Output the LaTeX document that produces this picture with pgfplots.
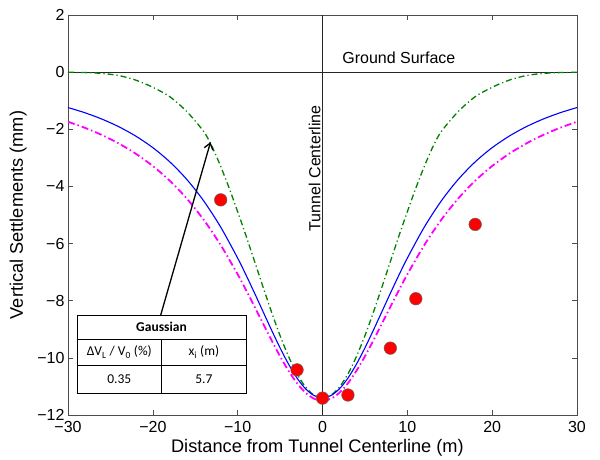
\documentclass[border=0pt]{standalone}
\usepackage{fontspec}
\setmainfont{Liberation Sans}
\newfontfamily\calibri{Carlito}
\usepackage{pgfplots}
\pgfplotsset{compat=1.18}
\usetikzlibrary{arrows.meta}
\definecolor{mgreen}{rgb}{0,0.5,0}
\definecolor{mmag}{rgb}{1,0,1}
\definecolor{mblue}{rgb}{0,0,1}
\definecolor{mred}{rgb}{1,0,0}
\begin{document}
\begin{tikzpicture}
\useasboundingbox (-68pt,-44pt) rectangle (532pt,415pt);
\begin{axis}[
  at={(0pt,0pt)}, anchor=south west,
  scale only axis, width=509pt, height=400pt,
  xmin=-30, xmax=30, ymin=-12, ymax=2,
  xtick={-30,-20,-10,0,10,20,30},
  xticklabels={−30,−20,−10,0,10,20,30},
  ytick={-12,-10,-8,-6,-4,-2,0,2},
  yticklabels={−12,−10,−8,−6,−4,−2,0,2},
  tick align=inside, major tick length=5pt,
  axis line style={black!70, line width=0.7pt},
  every tick/.style={black!70, line width=0.6pt},
  ticklabel style={font=\fontsize{16}{18}\selectfont},
  xticklabel style={yshift=-3pt},
  xlabel={Distance from Tunnel Centerline (m)},
  ylabel={Vertical Settlements (mm)},
  label style={font=\fontsize{18.2}{21}\selectfont},
  xlabel style={at={(axis description cs:0.49,-0.0925)}, anchor=base},
  ylabel style={at={(axis description cs:-0.098,0.5)}, anchor=center},
]
% ground surface and centerline
\addplot[black!85, line width=0.9pt] coordinates {(-30,0) (30,0)};
\addplot[black!85, line width=0.9pt] coordinates {(0,-12) (0,2)};
% green Gaussian
\addplot[mgreen, line width=1.3pt, smooth, dash pattern=on 6pt off 3pt on 1.2pt off 3pt] coordinates {
(-30,-0.005) (-28,-0.015) (-26,-0.045) (-24,-0.12) (-22,-0.28) (-20,-0.53) (-18,-0.86) (-16,-1.38) (-14,-2.08) (-13,-2.62) (-12,-3.30) (-11,-4.06) (-10,-4.885) (-9,-5.738) (-8,-6.628) (-7,-7.526) (-6,-8.403) (-5,-9.224) (-4,-9.954) (-3,-10.563) (-2,-11.020) (-1,-11.304) (0,-11.4)
(1,-11.304) (2,-11.020) (3,-10.563) (4,-9.954) (5,-9.224) (6,-8.403) (7,-7.526) (8,-6.628) (9,-5.738) (10,-4.885) (11,-4.06) (12,-3.30) (13,-2.62) (14,-2.08) (16,-1.38) (18,-0.86) (20,-0.53) (22,-0.28) (24,-0.12) (26,-0.045) (28,-0.015) (30,-0.005)};
% magenta
\addplot[mmag, line width=1.8pt, smooth, dash pattern=on 7pt off 3pt on 1.5pt off 3pt] coordinates {
(-30,-1.736) (-28,-1.949) (-26,-2.201) (-24,-2.500) (-22,-2.857) (-20,-3.286) (-18,-3.802) (-16,-4.423) (-14,-5.169) (-12,-6.053) (-10,-7.077) (-9,-7.635) (-8,-8.214) (-7,-8.804) (-6,-9.388) (-5,-9.946) (-4,-10.455) (-3,-10.888) (-2,-11.220) (-1,-11.429) (0,-11.5)
(1,-11.429) (2,-11.220) (3,-10.888) (4,-10.455) (5,-9.946) (6,-9.388) (7,-8.804) (8,-8.214) (9,-7.635) (10,-7.077) (12,-6.053) (14,-5.169) (16,-4.423) (18,-3.802) (20,-3.286) (22,-2.857) (24,-2.500) (26,-2.201) (28,-1.949) (30,-1.736)};
% blue
\addplot[mblue, line width=1.1pt, smooth] coordinates {
(-30,-1.239) (-28,-1.422) (-26,-1.643) (-24,-1.912) (-22,-2.240) (-20,-2.643) (-18,-3.140) (-16,-3.754) (-14,-4.508) (-12,-5.424) (-10,-6.509) (-9,-7.109) (-8,-7.739) (-7,-8.386) (-6,-9.031) (-5,-9.652) (-4,-10.221) (-3,-10.708) (-2,-11.083) (-1,-11.319) (0,-11.4)
(1,-11.319) (2,-11.083) (3,-10.708) (4,-10.221) (5,-9.652) (6,-9.031) (7,-8.386) (8,-7.739) (9,-7.109) (10,-6.509) (12,-5.424) (14,-4.508) (16,-3.754) (18,-3.140) (20,-2.643) (22,-2.240) (24,-1.912) (26,-1.643) (28,-1.422) (30,-1.239)};
% measured points
\addplot[only marks, mark=*, mark size=6.3pt, mark options={fill=mred, draw=black!60, line width=0.5pt}] coordinates {
(-12,-4.47) (-3,-10.42) (0,-11.41) (3,-11.3) (8,-9.66) (11,-7.93) (18,-5.33)};
% annotations
\node[anchor=base, font=\fontsize{16}{18}\selectfont] at (axis cs:9.0,0.3) {Ground Surface};
\node[rotate=90, anchor=base, font=\fontsize{16}{18}\selectfont] at (axis cs:-0.25,-3.37) {Tunnel Centerline};
\draw[black, line width=1.3pt, -{Straight Barb[length=6pt,width=9pt]}] (axis cs:-19.1,-8.53) -- (axis cs:-13.2,-2.45);
\end{axis}
% inset table
\begin{scope}[line width=0.9pt]
\fill[white] (9pt,22pt) rectangle (178pt,100pt);
\draw (9pt,22pt) rectangle (178pt,100pt);
\draw (9pt,75.7pt) -- (178pt,75.7pt);
\draw (9pt,50pt) -- (178pt,50pt);
\draw (93.7pt,22pt) -- (93.7pt,75.7pt);
\end{scope}
\begin{scope}[every node/.style={font=\calibri\fontsize{13.5}{15}\selectfont}]
\node at (93.5pt,87.9pt) {\bfseries Gaussian};
\node at (51.3pt,62.9pt) {ΔV\textsubscript{L} / V\textsubscript{0} (\%)};
\node at (135.9pt,62.9pt) {x\textsubscript{i} (m)};
\node at (51.3pt,36pt) {0.35};
\node at (135.9pt,36pt) {5.7};
\end{scope}
\end{tikzpicture}
\end{document}
